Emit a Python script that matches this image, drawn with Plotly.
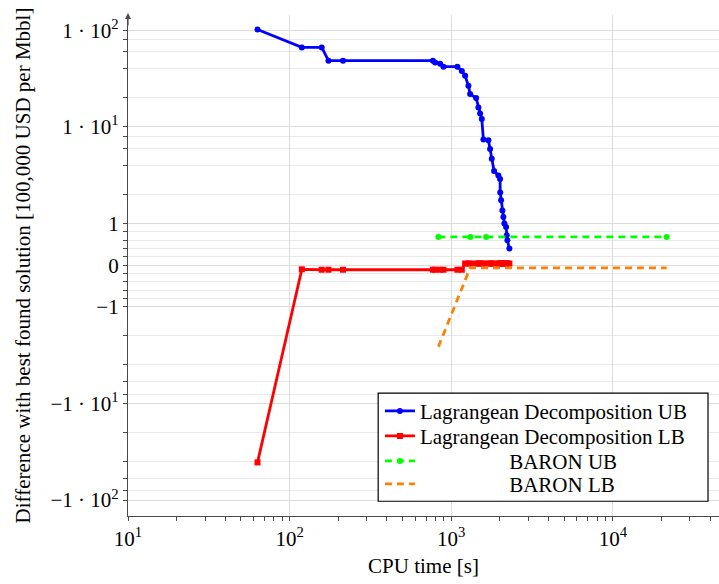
import numpy as np
import plotly.graph_objects as go

# ---- data -------------------------------------------------------------
# Lagrangean decomposition: CPU time of each iteration [s]
ld_time = [63.3, 119, 158, 174, 214, 770, 795, 854, 895, 1092, 1163, 1219,
           1278, 1309, 1426, 1473, 1509, 1546, 1582, 1698, 1740, 1782, 1842,
           1958, 2006, 2010, 2035, 2073, 2102, 2133, 2185, 2207, 2226, 2290]
# gap of the upper bound to the best found solution
ld_ub = [102, 66.5, 66.5, 48.5, 48.5, 48.5, 46.3, 45, 42, 42, 38, 33.8,
         26.6, 21.9, 19.9, 15.9, 13.8, 12.1, 7.4, 7.3, 5.9, 4.7, 3.5,
         3.15, 2.9, 2.1, 1.74, 1.37, 1.17, 1.0, 0.92, 0.72, 0.6, 0.4]
# gap of the lower bound to the best found solution
ld_lb = [-40.8, -0.10, -0.11, -0.11, -0.11, -0.11, -0.11, -0.11, -0.11,
         -0.11, -0.11, 0.04, 0.04, 0.04, 0.04, 0.04, 0.04, 0.04, 0.04,
         0.04, 0.04, 0.04, 0.04, 0.04, 0.04, 0.04, 0.04, 0.04, 0.04,
         0.04, 0.04, 0.04, 0.04, 0.04]

baron_ub_time = [833, 1315, 1644, 21540]
baron_ub = [0.68, 0.68, 0.68, 0.68]
baron_lb_time = [833, 1309, 21540]
baron_lb = [-2.6, -0.065, -0.065]

y_major = [-100, -10, -1, 0, 1, 10, 100]
y_major_text = ["\u22121 \u00b7 10<sup>2</sup>", "\u22121 \u00b7 10<sup>1</sup>", "\u22121",
                "0", "1", "1 \u00b7 10<sup>1</sup>", "1 \u00b7 10<sup>2</sup>"]
y_minor = [s * m for s in (-1, 1) for m in (0.2, 0.4, 0.6, 0.8, 2, 4, 6, 8, 20, 40, 60, 80)]
x_major = [10, 100, 1000, 10000]
x_major_text = ["10<sup>1</sup>", "10<sup>2</sup>", "10<sup>3</sup>", "10<sup>4</sup>"]
x_minor = [m * d for d in (10, 100, 1000, 10000) for m in range(2, 10)]

# ---- symmetric log transform (linear within [-1, 1]) -------------------
LIN = 0.43  # width of one linear unit relative to one decade


def symlog(v):
    v = np.asarray(v, dtype=float)
    a = np.abs(v)
    return np.where(a <= 1, LIN * v, np.sign(v) * (LIN + np.log10(np.maximum(a, 1e-12))))


FONT = "Liberation Serif"
FS = 21
AXIS = "#4a4a4a"
pad = "\u00a0" * 17

fig = go.Figure()
fig.add_trace(go.Scatter(
    x=ld_time, y=symlog(ld_ub), customdata=ld_ub, mode="lines+markers",
    name="Lagrangean Decomposition UB", legend="legend",
    line=dict(color="#0000ff", width=2.8),
    marker=dict(symbol="circle", size=6, color="#0000ff"),
    hovertemplate="%{x}<br>%{customdata}<extra></extra>"))
fig.add_trace(go.Scatter(
    x=ld_time, y=symlog(ld_lb), customdata=ld_lb, mode="lines+markers",
    name="Lagrangean Decomposition LB", legend="legend2",
    line=dict(color="#ff0000", width=2.8),
    marker=dict(symbol="square", size=6, color="#ff0000"),
    hovertemplate="%{x}<br>%{customdata}<extra></extra>"))
fig.add_trace(go.Scatter(
    x=baron_ub_time, y=symlog(baron_ub), customdata=baron_ub, mode="lines+markers",
    name=pad + "BARON UB", legend="legend3",
    line=dict(color="#00ff00", width=2.8, dash="7px,5px"),
    marker=dict(symbol="circle", size=6, color="#00ff00"),
    hovertemplate="%{x}<br>%{customdata}<extra></extra>"))
fig.add_trace(go.Scatter(
    x=baron_lb_time, y=symlog(baron_lb), customdata=baron_lb, mode="lines",
    name=pad + "BARON LB", legend="legend4",
    line=dict(color="#ff8000", width=2.8, dash="7px,5px"),
    hovertemplate="%{x}<br>%{customdata}<extra></extra>"))

# legend frame (paper coordinates of the plot area)
BOX = dict(x0=0.4233, x1=0.9814, y0=0.0294, y1=0.2451)
row_y = [0.2091, 0.1592, 0.1092, 0.0633]


def legend_row(y):
    return dict(x=BOX["x0"] + 0.003, y=y, xanchor="left", yanchor="middle",
                bgcolor="rgba(0,0,0,0)", borderwidth=0, itemwidth=30,
                font=dict(family=FONT, size=FS, color="black"))


fig.update_layout(
    width=719, height=584,
    margin=dict(l=128, r=0, t=15, b=68),
    plot_bgcolor="white", paper_bgcolor="white",
    font=dict(family=FONT, size=FS, color="black"),
    showlegend=True,
    legend=legend_row(row_y[0]),
    legend2=legend_row(row_y[1]),
    legend3=legend_row(row_y[2]),
    legend4=legend_row(row_y[3]),
)
fig.add_shape(type="rect", xref="paper", yref="paper", layer="above",
              x0=BOX["x0"], x1=BOX["x1"], y0=BOX["y0"], y1=BOX["y1"],
              line=dict(color="black", width=1.2), fillcolor="white")

fig.update_xaxes(
    type="log", range=[1, 4.657],
    tickmode="array", tickvals=x_major, ticktext=x_major_text,
    ticks="outside", ticklen=4, tickcolor=AXIS, tickwidth=1,
    showgrid=True, gridcolor="#dcdcdc", gridwidth=1,
    showline=True, linecolor=AXIS, linewidth=1.2,
    zeroline=False,
    minor=dict(tickmode="array", tickvals=x_minor, ticks="outside", ticklen=4,
               tickcolor=AXIS, showgrid=False),
    tickfont=dict(family=FONT, size=FS),
    title=dict(text="CPU time [s]", standoff=8, font=dict(family=FONT, size=FS)),
)
fig.update_yaxes(
    range=[-2.595, 2.588],
    tickmode="array", tickvals=symlog(y_major), ticktext=y_major_text,
    ticks="outside", ticklen=4, tickcolor=AXIS, tickwidth=1,
    showgrid=True, gridcolor="#dcdcdc", gridwidth=1,
    showline=True, linecolor=AXIS, linewidth=1.2,
    zeroline=False,
    minor=dict(tickmode="array", tickvals=symlog(y_minor), ticks="outside", ticklen=4,
               tickcolor=AXIS, showgrid=True, gridcolor="#e9e9e9", gridwidth=1),
    tickfont=dict(family=FONT, size=FS),
    title=dict(text="Difference with best found solution [100,000 USD per Mbbl]",
               standoff=14, font=dict(family=FONT, size=FS)),
)

# arrow tip at the top of the vertical axis
fig.add_annotation(x=0, y=1, xref="paper", yref="paper", text="",
                   showarrow=True, ax=0, ay=14, axref="pixel", ayref="pixel",
                   arrowhead=2, arrowsize=1, arrowwidth=1.2, arrowcolor=AXIS,
                   yshift=2)

fig.write_html("out.html")
